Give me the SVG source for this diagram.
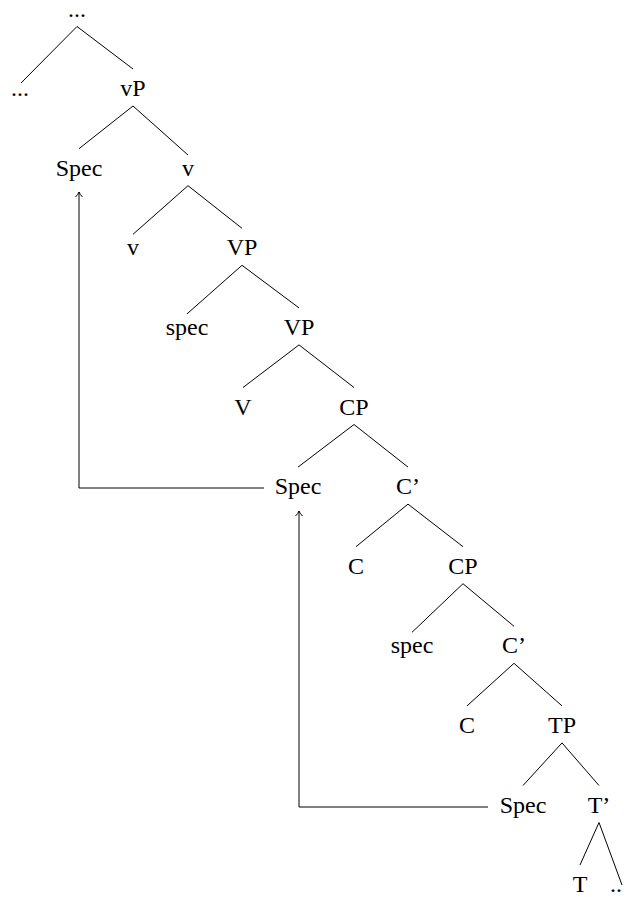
<svg xmlns="http://www.w3.org/2000/svg" width="626" height="897" viewBox="0 0 626 897">
<style>
text { font-family: "Liberation Serif", "Times New Roman", serif; font-size: 24px; fill: #000; text-anchor: middle; }
.edge { stroke: #000; stroke-width: 1; fill: none; }
.move { stroke: #000; stroke-width: 1; fill: none; }
</style>
<defs>
<marker id="arr" viewBox="0 0 10 10" refX="9" refY="5" markerWidth="10" markerHeight="10" markerUnits="userSpaceOnUse" orient="auto">
<path d="M4,1.5 Q6.5,4 9,5 Q6.5,6 4,8.5" stroke="#000" stroke-width="1" fill="none"/>
</marker>
</defs>
<rect width="626" height="897" fill="#fff"/>
<g id="connectors">
<line class="edge" x1="77" y1="26.5" x2="21" y2="83"/>
<line class="edge" x1="77" y1="26.5" x2="133" y2="69"/>
<line class="edge" x1="133" y1="106" x2="79" y2="148.7"/>
<line class="edge" x1="133" y1="106" x2="188" y2="155"/>
<line class="edge" x1="188" y1="185.7" x2="133" y2="234.3"/>
<line class="edge" x1="188" y1="185.7" x2="242" y2="228.3"/>
<line class="edge" x1="242" y1="265.3" x2="187" y2="313.9"/>
<line class="edge" x1="242" y1="265.3" x2="299" y2="307.9"/>
<line class="edge" x1="299" y1="344.9" x2="243" y2="387.5"/>
<line class="edge" x1="299" y1="344.9" x2="354" y2="387.5"/>
<line class="edge" x1="354" y1="424.5" x2="298" y2="467.1"/>
<line class="edge" x1="354" y1="424.5" x2="408" y2="467.1"/>
<line class="edge" x1="408" y1="504.1" x2="356" y2="546.7"/>
<line class="edge" x1="408" y1="504.1" x2="463" y2="546.7"/>
<line class="edge" x1="463" y1="583.7" x2="412" y2="632.3"/>
<line class="edge" x1="463" y1="583.7" x2="514" y2="626.3"/>
<line class="edge" x1="514" y1="663.3" x2="467" y2="705.9"/>
<line class="edge" x1="514" y1="663.3" x2="562" y2="705.9"/>
<line class="edge" x1="562" y1="742.9" x2="523" y2="785.5"/>
<line class="edge" x1="562" y1="742.9" x2="599" y2="785.5"/>
<line class="edge" x1="599" y1="822.5" x2="580" y2="865"/>
<line class="edge" x1="599" y1="822.5" x2="622" y2="885"/>
<path class="move" d="M264,488 H79 V192" marker-end="url(#arr)"/>
<path class="move" d="M488,807 H299 V511" marker-end="url(#arr)"/>
</g>
<g id="n-root"><text x="77" y="17">...</text></g>
<g id="n-dots1"><text x="20" y="96.1">...</text></g>
<g id="n-vP"><text x="133" y="96.1">vP</text></g>
<g id="n-spec1"><text x="79" y="175.7">Spec</text></g>
<g id="n-vbar"><text x="188" y="175.7">v</text></g>
<g id="n-v"><text x="133" y="255.3">v</text></g>
<g id="n-VP1"><text x="242" y="255.3">VP</text></g>
<g id="n-spec2"><text x="187" y="334.9">spec</text></g>
<g id="n-VP2"><text x="299" y="334.9">VP</text></g>
<g id="n-V"><text x="243" y="414.5">V</text></g>
<g id="n-CP1"><text x="354" y="414.5">CP</text></g>
<g id="n-spec3"><text x="298" y="494.1">Spec</text></g>
<g id="n-Cbar1"><text x="408" y="494.1">C’</text></g>
<g id="n-C1"><text x="356" y="573.7">C</text></g>
<g id="n-CP2"><text x="463" y="573.7">CP</text></g>
<g id="n-spec4"><text x="412" y="653.3">spec</text></g>
<g id="n-Cbar2"><text x="514" y="653.3">C’</text></g>
<g id="n-C2"><text x="467" y="732.9">C</text></g>
<g id="n-TP"><text x="562" y="732.9">TP</text></g>
<g id="n-spec5"><text x="523" y="812.5">Spec</text></g>
<g id="n-Tbar"><text x="599" y="812.5">T’</text></g>
<g id="n-T"><text x="580" y="892.1">T</text></g>
<g id="n-dots2"><text x="616" y="892.1">..</text></g>
</svg>
